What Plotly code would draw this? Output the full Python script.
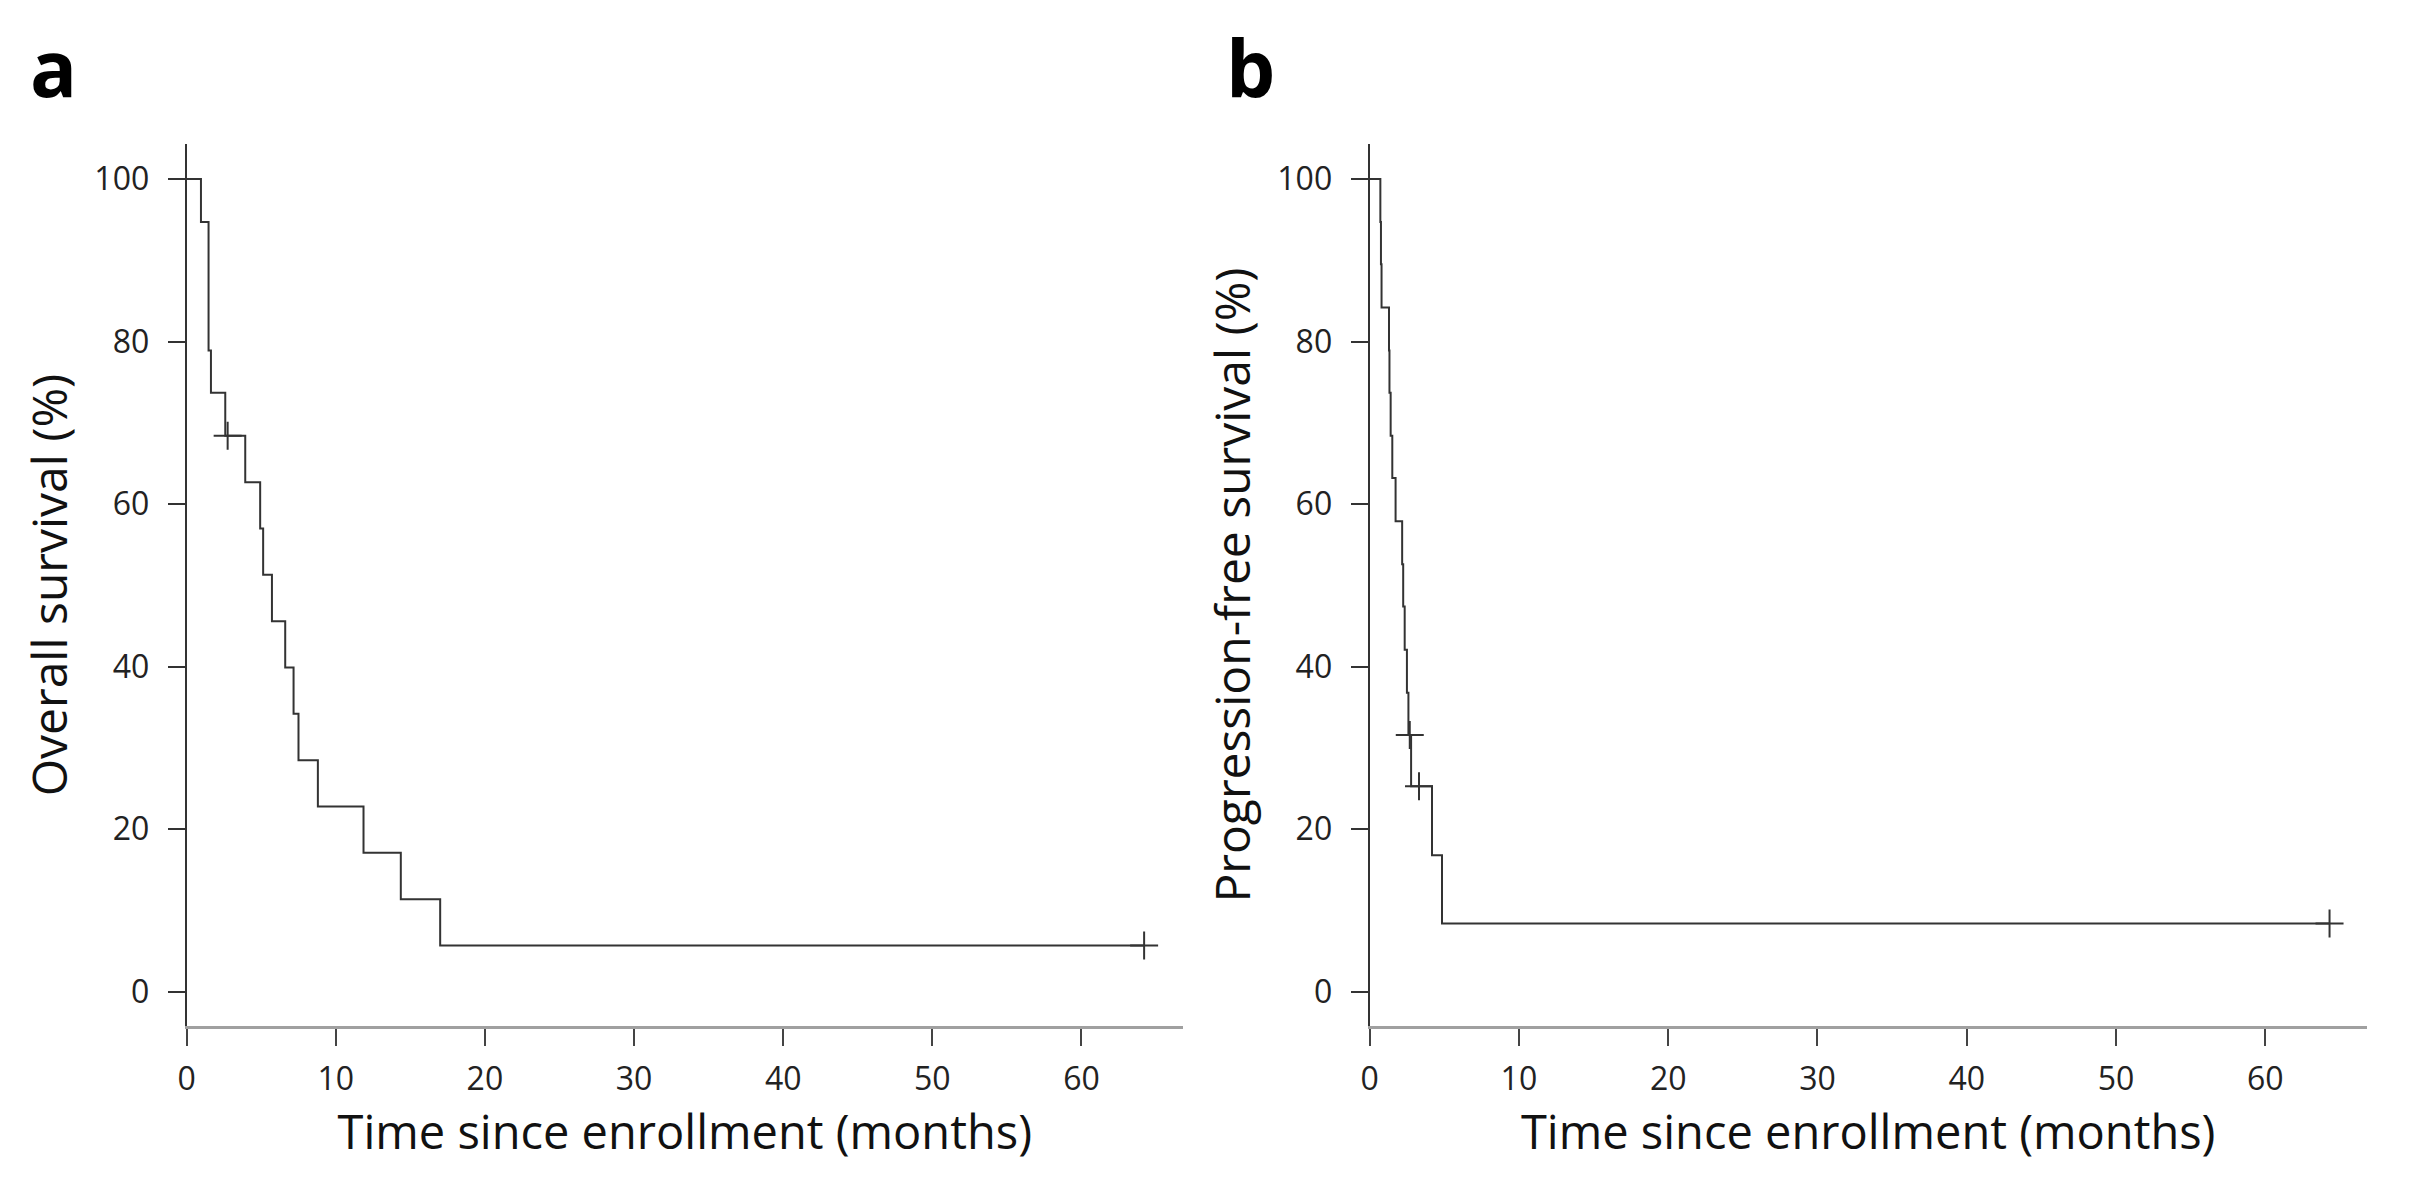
import plotly.graph_objects as go

# ---- Data (Kaplan-Meier step curves) ----
os_times = [0, 0.96, 1.47, 1.63, 2.59, 3.93, 4.93, 5.13, 5.72, 6.61, 7.17, 7.50, 8.80, 11.86, 14.36, 17.00, 64.2]
os_surv = [100, 94.7, 78.9, 73.7, 68.4, 62.7, 57.0, 51.3, 45.6, 39.9, 34.2, 28.5, 22.8, 17.1, 11.4, 5.7, 5.7]
os_censor_t = [2.75, 64.2]
os_censor_s = [68.4, 5.7]

pfs_times = [0, 0.72, 0.76, 0.80, 1.30, 1.33, 1.41, 1.52, 1.74, 2.18, 2.25, 2.35, 2.50, 2.60, 2.78, 4.18, 4.85, 64.3]
pfs_surv = [100, 94.7, 89.5, 84.2, 78.9, 73.7, 68.4, 63.2, 57.9, 52.6, 47.4, 42.1, 36.8, 31.6, 25.3, 16.8, 8.4, 8.4]
pfs_censor_t = [2.69, 3.31, 64.3]
pfs_censor_s = [31.6, 25.3, 8.4]

x_tickvals = [0, 10, 20, 30, 40, 50, 60]
y_tickvals = [0, 20, 40, 60, 80, 100]
x_title = "Time since enrollment (months)"
y_titles = ["Overall survival (%)", "Progression-free survival (%)"]
panel_labels = ["a", "b"]

W, H = 2412, 1201
FONT = "Open Sans, Noto Sans, DejaVu Sans, sans-serif"
CURVE = "#333333"

fig = go.Figure()

for i, (t, s, ct, cs) in enumerate([(os_times, os_surv, os_censor_t, os_censor_s),
                                    (pfs_times, pfs_surv, pfs_censor_t, pfs_censor_s)]):
    xa = "x" if i == 0 else "x2"
    ya = "y" if i == 0 else "y2"
    fig.add_trace(go.Scatter(x=t, y=s, mode="lines", line=dict(shape="hv", color=CURVE, width=2),
                             xaxis=xa, yaxis=ya, showlegend=False, hoverinfo="skip"))
    fig.add_trace(go.Scatter(x=ct, y=cs, mode="markers",
                             marker=dict(symbol="cross-thin", size=20, line=dict(color=CURVE, width=2)),
                             xaxis=xa, yaxis=ya, showlegend=False, hoverinfo="skip"))

x_dom = [[178.3 / W, 1178.3 / W], [1365.7 / W, 2366.7 / W]]
y_dom = [1 - 1026 / H, 1 - 144 / H]

common_x = dict(range=[0, 66.8], tickvals=x_tickvals, ticks="outside", ticklen=17, tickwidth=2,
                tickcolor="#444444", showline=True, linecolor="#a0a0a0", linewidth=3,
                showgrid=False, zeroline=False, tickfont=dict(family=FONT, size=32, color="#222222"),
                ticklabelstandoff=6,
                title=dict(text=x_title, font=dict(family=FONT, size=47, color="#111111"), standoff=14))
common_y = dict(range=[-4.2, 104.3], tickvals=y_tickvals, ticks="outside", ticklen=17, tickwidth=2,
                tickcolor="#333333", showline=True, linecolor="#333333", linewidth=2,
                showgrid=False, zeroline=False, tickfont=dict(family=FONT, size=32, color="#222222"),
                ticklabelstandoff=12)

fig.update_layout(
    width=W, height=H, margin=dict(l=0, r=0, t=0, b=0),
    paper_bgcolor="white", plot_bgcolor="white",
    xaxis=dict(domain=x_dom[0], anchor="y", **common_x),
    xaxis2=dict(domain=x_dom[1], anchor="y2", **common_x),
    yaxis=dict(domain=y_dom, anchor="x",
               title=dict(text=y_titles[0], font=dict(family=FONT, size=48, color="#111111"), standoff=12),
               **common_y),
    yaxis2=dict(domain=y_dom, anchor="x2",
                title=dict(text=y_titles[1], font=dict(family=FONT, size=48, color="#111111"), standoff=12),
                **common_y),
)

for lbl, xpos in zip(panel_labels, [19 / W, 1220 / W]):
    fig.add_annotation(text=f"<b>{lbl}</b>", x=xpos, y=1 - 12 / H, xref="paper", yref="paper",
                       xanchor="left", yanchor="top", showarrow=False,
                       font=dict(family="Open Sans, DejaVu Sans, sans-serif", size=78, color="#000000"))

fig.write_html("out.html", config={"displayModeBar": False},
               post_script="document.body.style.margin='0';")
